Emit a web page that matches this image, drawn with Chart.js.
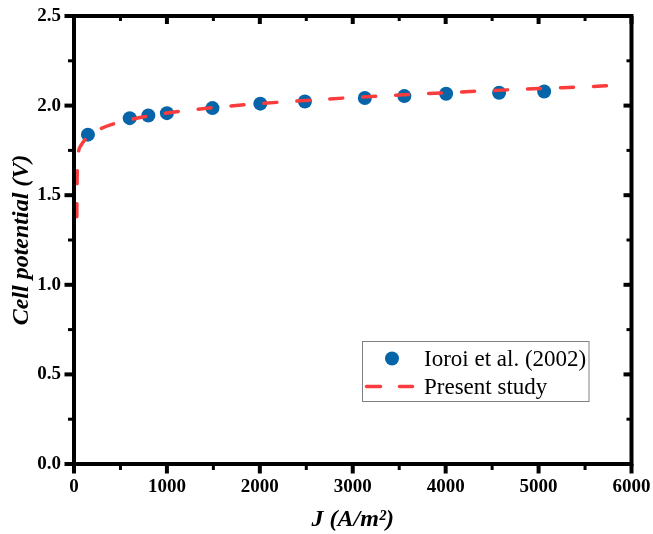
<!DOCTYPE html>
<html><head><meta charset="utf-8">
<script src="https://cdn.jsdelivr.net/npm/chart.js@4"></script>
<style>html,body{margin:0;padding:0;background:#fff;}</style>
</head><body>
<canvas id="c" width="653" height="534" style="display:block;width:653px;height:534px"></canvas>
<script>
// ---- data ----
const expJ = [150, 600, 800, 1000, 1490, 2005, 2485, 3130, 3555, 4005, 4575, 5060];
const expV = [1.838, 1.930, 1.945, 1.958, 1.986, 2.011, 2.023, 2.042, 2.053, 2.066, 2.072, 2.079];
const modelJ = [30, 32, 35, 40, 50, 75, 110, 160, 250, 400, 600, 800, 1000, 1500, 2000, 2500, 3000, 3500, 4000, 4500, 5000, 5500, 5840];
const modelV = [1.38, 1.52, 1.64, 1.71, 1.748, 1.778, 1.805, 1.832, 1.862, 1.894, 1.921, 1.942, 1.959, 1.989, 2.011, 2.029, 2.045, 2.059, 2.072, 2.084, 2.095, 2.105, 2.113];
const seriesNames = ['Ioroi et al. (2002)', 'Present study'];
const xTickValues = [0, 1000, 2000, 3000, 4000, 5000, 6000];
const yTickLabels = ['0.0', '0.5', '1.0', '1.5', '2.0', '2.5'];
const xTitle = 'J (A/m\u00B2)';
const yTitle = 'Cell potential (V)';

const BLUE = '#0565a8';
const RED = '#fa3c3c';
const SERIF = '"Liberation Serif", "Times New Roman", serif';

const expData = expJ.map((j, i) => ({x: j, y: expV[i]}));
const modelData = modelJ.map((j, i) => ({x: j, y: modelV[i]}));

const framePlugin = {
  id: 'frame',
  afterDatasetsDraw(chart) {
    const {ctx, chartArea: a, scales: {x, y}} = chart;
    ctx.save();
    ctx.strokeStyle = '#000';
    ctx.lineCap = 'butt';
    const tick = (x1, y1, x2, y2, w) => { ctx.lineWidth = w; ctx.beginPath(); ctx.moveTo(x1, y1); ctx.lineTo(x2, y2); ctx.stroke(); };
    for (let v = 0; v <= 6000; v += 500) {
      const px = x.getPixelForValue(v);
      const major = v % 1000 === 0;
      tick(px, a.bottom, px, a.bottom + (major ? 9.5 : 6), major ? 4 : 3);
      tick(px, a.top, px, a.top + (major ? 8 : 5), major ? 4 : 3);
    }
    for (let k = 0; k <= 10; k++) {
      const v = k * 0.25;
      const py = y.getPixelForValue(v);
      const major = k % 2 === 0;
      tick(a.left, py, a.left - (major ? 9.5 : 6), py, major ? 4 : 3);
      tick(a.right, py, a.right - (major ? 8 : 5), py, major ? 4 : 3);
    }
    ctx.lineWidth = 4;
    ctx.lineJoin = 'miter';
    ctx.strokeRect(a.left, a.top, a.right - a.left, a.bottom - a.top);
    ctx.restore();
  },
  afterDraw(chart) {
    const {ctx, chartArea: a} = chart;
    const ds = chart.data.datasets;
    const bx = a.left + 288.5, by = a.top + 325.5, bw = 226.5, bh = 60;
    ctx.save();
    ctx.fillStyle = '#fff';
    ctx.fillRect(bx, by, bw, bh);
    ctx.strokeStyle = '#808080';
    ctx.lineWidth = 1;
    ctx.strokeRect(bx, by, bw, bh);
    ctx.fillStyle = ds[0].backgroundColor;
    ctx.beginPath();
    ctx.arc(bx + 29.5, by + 17, 7, 0, Math.PI * 2);
    ctx.fill();
    ctx.strokeStyle = ds[1].borderColor;
    ctx.lineWidth = ds[1].borderWidth;
    ctx.lineCap = 'round';
    ctx.beginPath(); ctx.moveTo(bx + 4, by + 45); ctx.lineTo(bx + 18, by + 45); ctx.stroke();
    ctx.beginPath(); ctx.moveTo(bx + 37, by + 45); ctx.lineTo(bx + 50, by + 45); ctx.stroke();
    ctx.fillStyle = '#000';
    ctx.font = '23px ' + SERIF;
    ctx.textBaseline = 'alphabetic';
    ctx.textAlign = 'left';
    ctx.fillText(ds[0].label, bx + 61.5, by + 24.5);
    ctx.fillText(ds[1].label, bx + 61.5, by + 52.5);
    ctx.restore();
  }
};

new Chart(document.getElementById('c'), {
  type: 'scatter',
  data: {
    datasets: [
      {
        label: seriesNames[0],
        data: expData,
        backgroundColor: BLUE,
        borderColor: BLUE,
        pointRadius: 7,
        pointHoverRadius: 7,
        borderWidth: 0,
        showLine: false,
        order: 2
      },
      {
        label: seriesNames[1],
        data: modelData,
        borderColor: RED,
        backgroundColor: RED,
        borderWidth: 3.5,
        borderDash: [13, 20],
        borderCapStyle: 'round',
        pointRadius: 0,
        showLine: true,
        cubicInterpolationMode: 'monotone',
        order: 1
      }
    ]
  },
  options: {
    responsive: false,
    devicePixelRatio: 1,
    animation: false,
    layout: {padding: {top: 16, right: 21.5, left: 0, bottom: 0}},
    plugins: {legend: {display: false}, tooltip: {enabled: false}},
    scales: {
      x: {
        type: 'linear', min: 0, max: 6000,
        afterFit(s) { s.height = 70; s.paddingLeft = 0; s.paddingRight = 0; s.paddingTop = 0; s.paddingBottom = 0; },
        afterBuildTicks(s) { s.ticks = xTickValues.map(v => ({value: v})); },
        grid: {display: false, drawTicks: false},
        border: {display: false},
        ticks: {
          padding: 12, color: '#000', maxRotation: 0,
          font: {family: SERIF, size: 19, weight: 'bold'},
          callback: v => String(v)
        },
        title: {display: true, text: xTitle, color: '#000', padding: {top: 0, bottom: 0},
          font: {family: SERIF, size: 24, weight: 'bold', style: 'italic', lineHeight: 1.15}}
      },
      y: {
        type: 'linear', min: 0, max: 2.5,
        afterFit(s) { s.width = 74; s.paddingLeft = 0; s.paddingRight = 0; s.paddingTop = 0; s.paddingBottom = 0; },
        afterBuildTicks(s) { s.ticks = yTickLabels.map(t => ({value: parseFloat(t)})); },
        grid: {display: false, drawTicks: false},
        border: {display: false},
        ticks: {
          padding: 13, color: '#000',
          font: {family: SERIF, size: 19, weight: 'bold'},
          callback: (v) => yTickLabels.find(t => parseFloat(t) === v) || v.toFixed(1)
        },
        title: {display: true, text: yTitle, color: '#000', padding: {top: 7, bottom: 0},
          font: {family: SERIF, size: 24, weight: 'bold', style: 'italic', lineHeight: 1.2}}
      }
    }
  },
  plugins: [framePlugin]
});
</script>
</body></html>
